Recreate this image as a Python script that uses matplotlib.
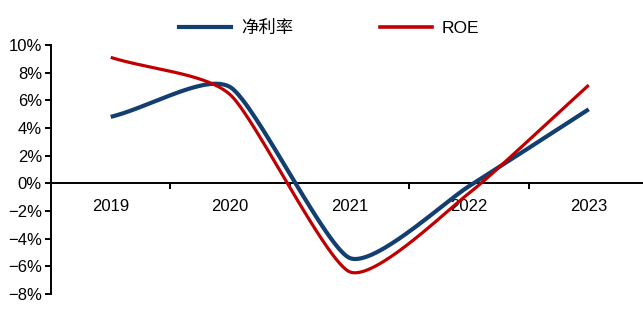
import numpy as np
import matplotlib.pyplot as plt
from matplotlib.lines import Line2D

years = ["2019", "2020", "2021", "2022", "2023"]
net_margin = [4.8, 6.95, -5.4, -0.2, 5.35]   # 净利率 %
roe = [9.1, 6.4, -6.4, -0.7, 7.1]            # ROE %

BLUE = "#123F6F"
RED = "#C00000"
NUM_FONT = ["Liberation Sans Narrow", "Liberation Sans", "DejaVu Sans"]
CJK_FONT = ["Noto Sans CJK SC", "DejaVu Sans"]

# pixel scale of one category / one percent, so the smoothing acts on screen distances
SX, SY = 119.5, 13.85
TENSION = 0.1


def smooth_line(ys, n=60):
    """Bezier-smoothed line through (0..k, ys)."""
    xs = np.arange(len(ys), dtype=float)
    P = np.column_stack([xs * SX, np.asarray(ys, float) * SY])
    out = []
    for i in range(len(P) - 1):
        p1, p2 = P[i], P[i + 1]
        first = i == 0
        last = i + 2 >= len(P)
        p0 = p1 if first else P[i - 1]
        p3 = p2 if last else P[i + 2]
        d12 = np.linalg.norm(p2 - p1)
        d02 = np.linalg.norm(p2 - p0)
        d13 = np.linalg.norm(p3 - p1)
        f0 = 1 / 3 if first else TENSION
        f1 = 1 / 3 if last else TENSION
        if d02 * f0 >= d12 / 2:
            f0 = d12 / d02 / 2
        if d13 * f1 >= d12 / 2:
            f1 = d12 / d13 / 2
        b1 = p1 + (p2 - p0) * f0
        b2 = p2 - (p3 - p1) * f1
        t = np.linspace(0, 1, n)[:, None]
        seg = ((1 - t) ** 3) * p1 + 3 * ((1 - t) ** 2) * t * b1 \
            + 3 * (1 - t) * t ** 2 * b2 + t ** 3 * p2
        out.append(seg if first else seg[1:])
    pts = np.vstack(out)
    return pts[:, 0] / SX, pts[:, 1] / SY


fig = plt.figure(figsize=(6.43, 3.26), dpi=100)
ax = fig.add_axes([0.0793, 0.0982, 0.9207, 0.764])

x1, y1 = smooth_line(net_margin)
x2, y2 = smooth_line(roe)
ax.plot(x1, y1, color=BLUE, lw=3.0, solid_capstyle="butt", zorder=3)
ax.plot(x2, y2, color=RED, lw=2.3, solid_capstyle="butt", zorder=4)

ax.set_xlim(-0.5, 4.454)
ax.set_ylim(-8, 10)

for s in ("top", "right"):
    ax.spines[s].set_visible(False)
ax.spines["bottom"].set_position(("data", 0))
ax.spines["left"].set_linewidth(1.4)
ax.spines["bottom"].set_linewidth(1.4)

ax.set_yticks(np.arange(-8, 11, 2))
ax.set_yticklabels([f"{v}%".replace("-", "\u2212") for v in range(-8, 11, 2)],
                   family=NUM_FONT, fontsize=12)
ax.tick_params(axis="y", direction="out", length=4.5, width=1.4, pad=2)

# ticks between categories, labels centred under each category
ax.set_xticks([0.5, 1.5, 2.5, 3.5])
ax.set_xticklabels([])
ax.tick_params(axis="x", which="major", direction="out", length=4.5, width=1.4)
ax.set_xticks(range(len(years)), minor=True)
ax.set_xticklabels(years, minor=True, family=NUM_FONT, fontsize=12)
ax.tick_params(axis="x", which="minor", length=0, pad=11.5)

handles = [Line2D([], [], color=BLUE, lw=3.0), Line2D([], [], color=RED, lw=2.6)]
leg = fig.legend(handles, ["净利率", "ROE"], loc="center", ncol=2,
                 bbox_to_anchor=(0.512, 0.914), frameon=False,
                 handlelength=3.0, handletextpad=0.55, columnspacing=5.0,
                 prop={"family": CJK_FONT, "size": 12.5})
leg.get_texts()[1].set_family(NUM_FONT)

fig.savefig("out.png", dpi=100)
